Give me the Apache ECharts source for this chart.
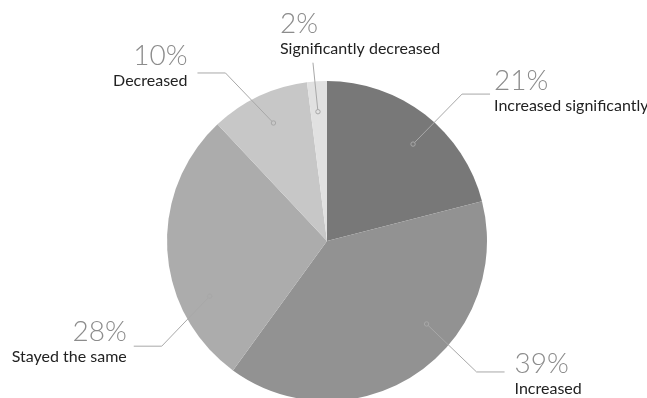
<!DOCTYPE html>
<html>
<head>
<meta charset="utf-8">
<script src="https://cdn.jsdelivr.net/npm/echarts@6/dist/echarts.min.js"></script>
<style>
  html, body { margin: 0; padding: 0; background: #fff; }
  #chart { width: 647px; height: 398px; }
</style>
</head>
<body>
<div id="chart"></div>
<script>
// Survey answers, share of respondents in percent
const categories = ['Increased significantly', 'Increased', 'Stayed the same', 'Decreased', 'Significantly decreased'];
const shares = [21, 39, 28, 10, 2];
const sliceColors = ['#787878', '#929292', '#acacac', '#c7c7c7', '#e1e1e1'];

const PIE_CENTER = [327, 241];
const PIE_RADIUS = 160;
const ANCHOR_FRACTION = 0.81;
const LINE_COLOR = '#a8a8a8';

// Callout geometry per slice: angle nudge of the anchor dot (deg),
// diagonal leg, horizontal run, label gap and vertical offset of the label block
const callouts = [
  { nudge: 3.8,   leg: [49, -50],  run: 28,  gap: 4,   dy: -28, align: 'left' },
  { nudge: -16,   leg: [50, 48],   run: 28,  gap: 10,  dy: -23, align: 'left' },
  { nudge: -21.6, leg: [-48, 50],  run: -28, gap: 7,   dy: -29, align: 'right' },
  { nudge: 0.8,   leg: [-48, -50], run: -28, gap: 10,  dy: -32, align: 'right' },
  { nudge: -0.4,  leg: [-5, -49],  run: 0,   gap: -33, dy: -54, align: 'left' }
];

const total = shares.reduce((a, b) => a + b, 0);

function anchorPoint(i) {
  const before = shares.slice(0, i).reduce((a, b) => a + b, 0);
  const deg = (before + shares[i] / 2) / total * 360 + callouts[i].nudge;
  const rad = deg * Math.PI / 180;
  const r = PIE_RADIUS * ANCHOR_FRACTION;
  return [PIE_CENTER[0] + r * Math.sin(rad), PIE_CENTER[1] - r * Math.cos(rad)];
}

function calloutPath(i) {
  const a = anchorPoint(i);
  const c = callouts[i];
  const elbow = [a[0] + c.leg[0], a[1] + c.leg[1]];
  const end = [elbow[0] + c.run, elbow[1]];
  return [a, elbow, end];
}

const chart = echarts.init(document.getElementById('chart'), null, { renderer: 'canvas' });

// leader lines and hollow anchor dots drawn above the slices
const leaders = [];
shares.forEach((_, i) => {
  const pts = calloutPath(i);
  leaders.push({
    type: 'polyline',
    silent: true,
    z: 100,
    shape: { points: pts },
    style: { fill: 'none', stroke: LINE_COLOR, lineWidth: 1 }
  });
  leaders.push({
    type: 'circle',
    silent: true,
    z: 101,
    shape: { cx: pts[0][0], cy: pts[0][1], r: 2.2 },
    style: { fill: sliceColors[i], stroke: LINE_COLOR, lineWidth: 1 }
  });
});

chart.setOption({
  backgroundColor: '#fff',
  animation: false,
  series: [{
    type: 'pie',
    center: PIE_CENTER,
    radius: PIE_RADIUS,
    startAngle: 90,
    clockwise: true,
    silent: true,
    data: categories.map((name, i) => ({
      name: name,
      value: shares[i],
      itemStyle: { color: sliceColors[i] }
    })),
    itemStyle: { borderWidth: 0 },
    label: {
      show: true,
      position: 'outside',
      overflow: 'none',
      formatter: p => '{p|' + p.value + '%}\n{n|' + p.name + '}',
      rich: {
        p: {
          fontFamily: 'Lato',
          fontWeight: 300,
          fontSize: 28,
          lineHeight: 30,
          color: '#8c8c8c'
        },
        n: {
          fontFamily: 'Lato',
          fontSize: 16,
          lineHeight: 20,
          color: '#222'
        }
      }
    },
    labelLine: { show: false },
    labelLayout: function (params) {
      const i = params.dataIndex;
      const c = callouts[i];
      const end = calloutPath(i)[2];
      const x = c.align === 'left' ? end[0] + c.gap : end[0] - c.gap;
      return {
        x: x,
        y: end[1] + c.dy,
        align: c.align,
        verticalAlign: 'top'
      };
    }
  }],
  graphic: leaders
});
</script>
</body>
</html>
